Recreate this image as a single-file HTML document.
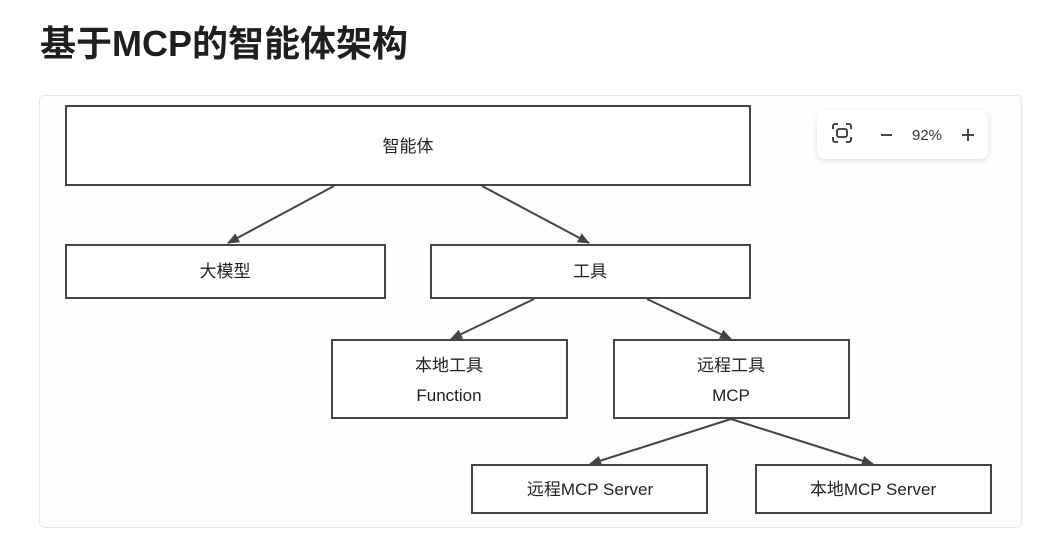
<!DOCTYPE html>
<html><head><meta charset="utf-8"><style>
html,body{margin:0;padding:0;background:#fff;}
body{width:1049px;height:552px;overflow:hidden;position:relative;font-family:"Liberation Sans","Noto Sans CJK SC",sans-serif;}
.title{position:absolute;left:40px;top:21px;font-size:36px;font-weight:bold;color:#1f1f1f;line-height:46px;}
.wrap{position:absolute;left:39px;top:95px;width:981px;height:431px;border:1px solid #e8e8e8;border-radius:5px;background:#fdfdfd;}
.tb{position:absolute;left:817px;top:110px;width:171px;height:49px;background:#fff;border-radius:8px;box-shadow:0 2px 6px rgba(0,0,0,0.12);}
svg{position:absolute;left:0;top:0;}
</style></head><body>
<div class="title">基于MCP的智能体架构</div>
<div class="wrap"></div>
<svg width="1049" height="552" viewBox="0 0 1049 552">
<defs><marker id="a" markerWidth="12" markerHeight="10" refX="11" refY="5" orient="auto" markerUnits="userSpaceOnUse"><path d="M0,0 L12,5 L0,10 z" fill="#444"/></marker></defs>
<g fill="#fff" stroke="#444" stroke-width="2">
<rect x="66" y="106" width="684" height="79"/>
<rect x="66" y="245" width="319" height="53"/>
<rect x="431" y="245" width="319" height="53"/>
<rect x="332" y="340" width="235" height="78"/>
<rect x="614" y="340" width="235" height="78"/>
<rect x="472" y="465" width="235" height="48"/>
<rect x="756" y="465" width="235" height="48"/>
</g>
<g stroke="#444" stroke-width="2" marker-end="url(#a)">
<line x1="334" y1="186" x2="228" y2="243"/>
<line x1="482" y1="186" x2="589" y2="243"/>
<line x1="534" y1="299" x2="451" y2="339"/>
<line x1="647" y1="299" x2="731" y2="339"/>
<line x1="731" y1="419" x2="590" y2="464"/>
<line x1="731" y1="419" x2="873" y2="464"/>
</g>
<g font-family="Liberation Sans,Noto Sans CJK SC,sans-serif" font-size="17" fill="#222" text-anchor="middle">
<text x="408" y="152">智能体</text>
<text x="225" y="277">大模型</text>
<text x="590" y="277">工具</text>
<text x="449" y="371">本地工具</text>
<text x="449" y="401">Function</text>
<text x="731" y="371">远程工具</text>
<text x="731" y="401">MCP</text>
<text x="590" y="495">远程MCP Server</text>
<text x="873" y="495">本地MCP Server</text>
</g>
</svg>
<div class="tb">
<svg width="171" height="49" viewBox="0 0 171 49" style="position:absolute;left:0;top:0">
<g stroke="#333" stroke-width="1.8" fill="none">
<path d="M16,19 v-3 a2,2 0 0 1 2,-2 h3 M29,14 h3 a2,2 0 0 1 2,2 v3 M34,27 v3 a2,2 0 0 1 -2,2 h-3 M21,32 h-3 a2,2 0 0 1 -2,-2 v-3"/>
<rect x="20" y="19" width="10" height="8" rx="2"/>
<line x1="64" y1="25" x2="75" y2="25"/>
<line x1="145" y1="25" x2="157" y2="25"/><line x1="151" y1="19" x2="151" y2="31"/>
</g>
<text x="110" y="30" font-family="Liberation Sans,sans-serif" font-size="15" fill="#333" text-anchor="middle">92%</text>
</svg>
</div>
</body></html>
